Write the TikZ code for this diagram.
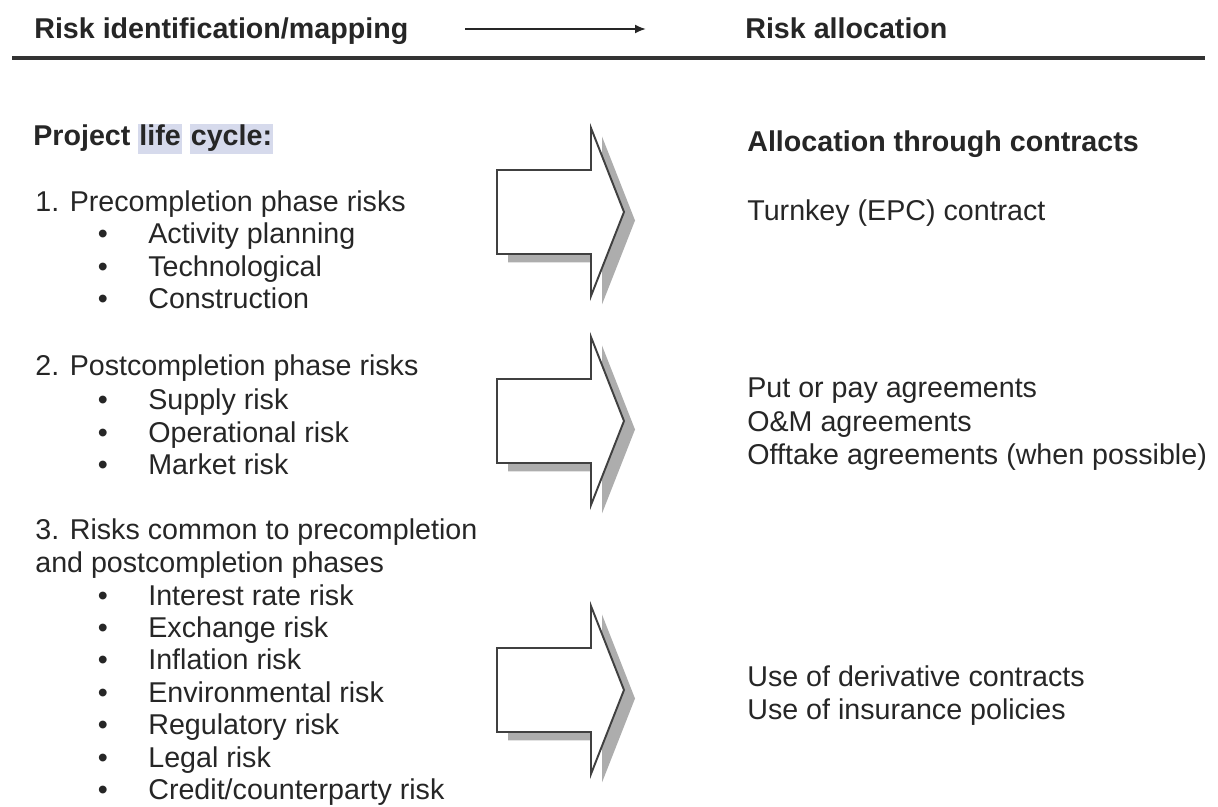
\documentclass[tikz,border=0pt]{standalone}
\usepackage{fontspec}
\setmainfont{Liberation Sans}
\usepackage{xcolor}
\usetikzlibrary{positioning}
\usetikzlibrary{shadows}
\usetikzlibrary{arrows.meta}
\definecolor{hlblue}{RGB}{214,218,236}
\newcommand{\hlmark}[1]{{\setlength{\fboxsep}{0.6pt}\colorbox{hlblue}{\rule[-4.2pt]{0pt}{15.6pt}#1}}}

\begin{document}
\begin{tikzpicture}[x=0.02cm, y=-0.02cm]
				\tikzstyle{txtnode}=[inner sep=0pt, anchor=base west, text=black!85, font=\fontsize{16.3}{19}\selectfont]
				\tikzstyle{boldnode}=[txtnode, font=\fontsize{16.3}{19}\selectfont\bfseries]
				\tikzstyle{bulletnode}=[inner sep=0pt, anchor=base, text=black!85, font=\fontsize{16.3}{19}\selectfont]
				\tikzstyle{blockarrow}=[draw=black!75, line width=1.1pt, fill=white, line join=miter, drop shadow={shadow xshift=0.22cm, shadow yshift=-0.17cm, fill=black!32, opacity=1}]
				
				\useasboundingbox (0,0) rectangle (1218,807);
				
				% header
				\node (riskid) at (34,39) [boldnode] {Risk identification/mapping};
				\node (riskal) at (745,39) [boldnode] {Risk allocation};
				\coordinate (hdS) at (465,29);
				\coordinate (hdE) at (646,29);
				\draw [-{Latex[length=2.2mm,width=1.8mm]}, line width=1.1pt, black!85] (hdS) -- (hdE);
				\coordinate (ruleL) at (12,58);
				\coordinate (ruleR) at (1205,58);
				\draw [line width=1.8pt, black!80] (ruleL) -- (ruleR);
				
				% left column
				\node (life) at (33,146) [boldnode] {Project \hlmark{life} \hlmark{cycle:}};
				
				\node (sec1) at (35,212) [txtnode] {1. Precompletion phase risks};
				\foreach \txt [count=\i] in {Activity planning, Technological, Construction}{
					\node (bA\i) at (103,244+32.5*\i-32.5) [bulletnode] {\textbullet};
					\node (iA\i) at (148,244+32.5*\i-32.5) [txtnode] {\txt};
				}
				
				\node (sec2) at (35,376) [txtnode] {2. Postcompletion phase risks};
				\foreach \txt [count=\i] in {Supply risk, Operational risk, Market risk}{
					\node (bB\i) at (103,410+32.5*\i-32.5) [bulletnode] {\textbullet};
					\node (iB\i) at (148,410+32.5*\i-32.5) [txtnode] {\txt};
				}
				
				\node (sec3a) at (35,540) [txtnode] {3. Risks common to precompletion};
				\node (sec3b) at (35,573) [txtnode] {and postcompletion phases};
				\foreach \txt [count=\i] in {Interest rate risk, Exchange risk, Inflation risk, Environmental risk, Regulatory risk, Legal risk, Credit/counterparty risk}{
					\node (bC\i) at (103,605+32.4*\i-32.4) [bulletnode] {\textbullet};
					\node (iC\i) at (148,605+32.4*\i-32.4) [txtnode] {\txt};
				}
				
				% block arrows
				\foreach \c in {212,421,690}{
					\draw [blockarrow] (497,\c-42) -- (591,\c-42) -- (591,\c-84) -- (624,\c) -- (591,\c+84) -- (591,\c+42) -- (497,\c+42) -- cycle;
				}
				
				% right column
				\node (alloc) at (747,152) [boldnode] {Allocation through contracts};
				\node (turnkey) at (747,221) [txtnode] {Turnkey (EPC) contract};
				\node (putpay) at (747,398) [txtnode] {Put or pay agreements};
				\node (omagr) at (747,432) [txtnode] {O\&M agreements};
				\node (offtake) at (747,465) [txtnode] {Offtake agreements (when possible)};
				\node (deriv) at (747,686) [txtnode] {Use of derivative contracts};
				\node (insur) at (747,719) [txtnode] {Use of insurance policies};
				
\end{tikzpicture}
\end{document}
